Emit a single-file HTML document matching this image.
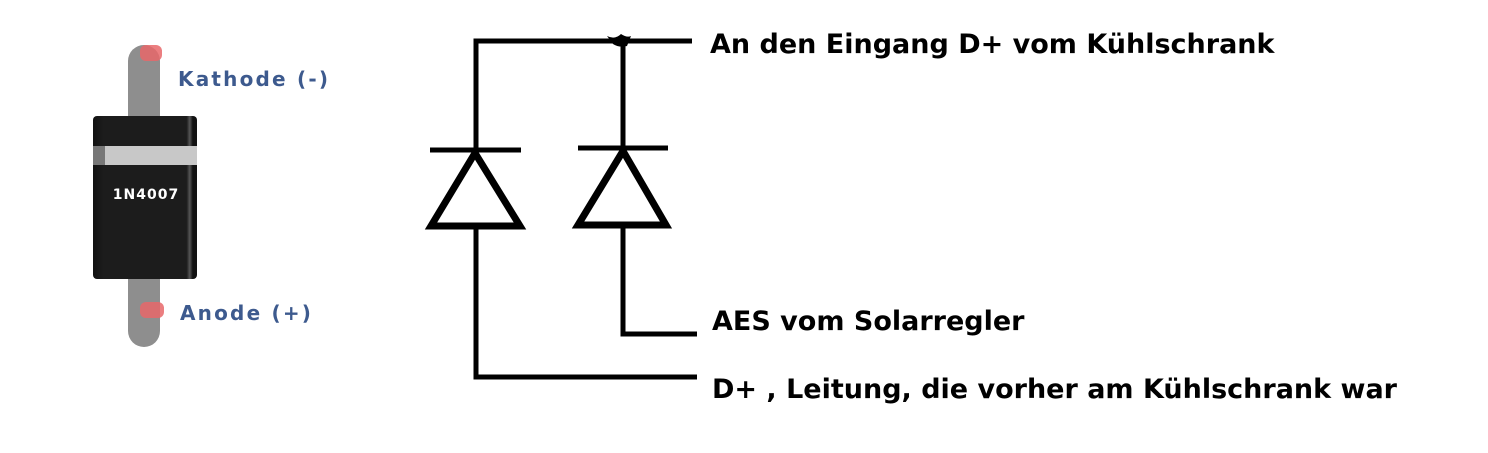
<!DOCTYPE html>
<html><head><meta charset="utf-8"><style>
body{margin:0;background:#fff;width:1488px;height:453px;overflow:hidden;position:relative;font-family:"DejaVu Sans",sans-serif}
.t{position:absolute;font-weight:bold;font-size:27px;color:#000;white-space:nowrap;line-height:1}
.l{position:absolute;font-weight:bold;font-size:20px;color:#3d5a8e;white-space:nowrap;line-height:1;letter-spacing:2.2px}
</style></head><body>
<svg width="1488" height="453" style="position:absolute;left:0;top:0">
<defs><linearGradient id="b" x1="0" x2="1"><stop offset="0" stop-color="#111"/><stop offset="0.1" stop-color="#1c1c1c"/><stop offset="0.9" stop-color="#1c1c1c"/><stop offset="0.93" stop-color="#555"/><stop offset="0.96" stop-color="#111"/></linearGradient></defs>
<rect x="128" y="45" width="32" height="302" rx="16" fill="#8e8e8e"/>
<rect x="140" y="45" width="22" height="16" rx="6" fill="#e8676a" opacity="0.85"/>
<rect x="140" y="302" width="24" height="16" rx="6" fill="#e8676a" opacity="0.85"/>
<rect x="93" y="116" width="104" height="163" rx="4" fill="url(#b)"/>
<rect x="93" y="146" width="104" height="19" fill="#c8c8c8"/>
<rect x="93" y="146" width="12" height="19" fill="#777"/>
<text x="146" y="199" text-anchor="middle" font-family="DejaVu Sans,sans-serif" font-weight="bold" font-size="14" letter-spacing="1" fill="#fff">1N4007</text>
<g stroke="#000" stroke-width="5" fill="none" stroke-linejoin="miter">
<polyline points="476,228 476,377 697,377"/>
<polyline points="476,150 476,41 692,41"/>
<line x1="623" y1="41" x2="623" y2="150"/>
<polyline points="623,228 623,334 697,334"/>
<line x1="430" y1="150" x2="521" y2="150"/>
<line x1="578" y1="148" x2="668" y2="148"/>
</g>
<g stroke="#000" stroke-width="7" fill="none" stroke-linejoin="miter">
<polygon points="475,153 431,226 520,226"/>
<polygon points="623,151 578,225 666,225"/>
</g>
<path d="M607,36 q8,4 14,-2 q6,4 10,2 l-4,10 q-8,2 -14,-2z" fill="#000"/>
</svg>
<div class="l" style="left:178px;top:69px">Kathode (-)</div>
<div class="l" style="left:180px;top:303px">Anode (+)</div>
<div class="t" style="left:710px;top:31px">An den Eingang D+ vom Kühlschrank</div>
<div class="t" style="left:712px;top:308px">AES vom Solarregler</div>
<div class="t" style="left:712px;top:376px">D+ , Leitung, die vorher am Kühlschrank war</div>
</body></html>
